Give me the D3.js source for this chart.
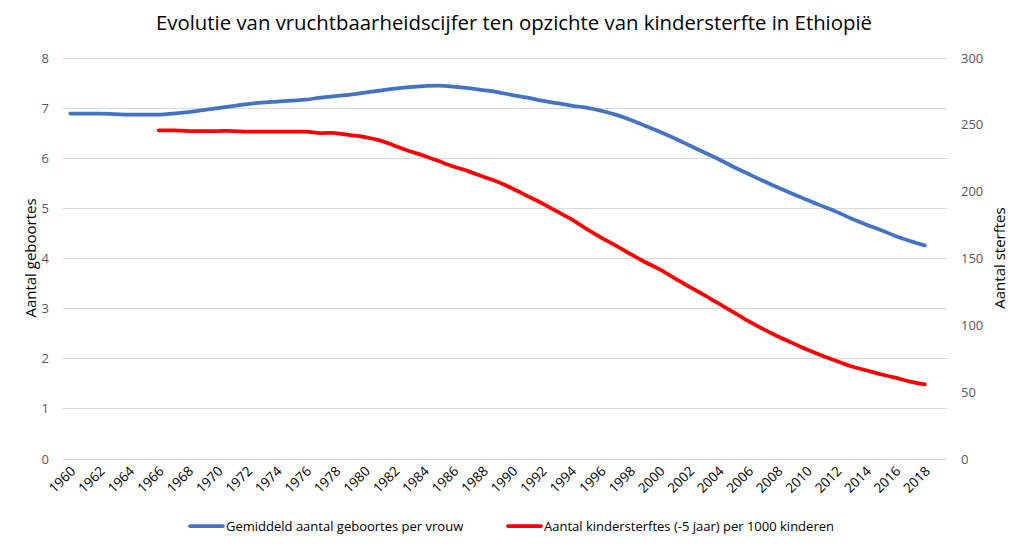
<!DOCTYPE html>
<html>
<head>
<meta charset="utf-8">
<script src="https://cdn.jsdelivr.net/npm/d3@7"></script>
<style>
  body { margin: 0; background: #fff; }
  text { font-family: 'Open Sans', 'Noto Sans', sans-serif; }
</style>
</head>
<body>
<div id="chart"></div>
<script>
// categories: 1960..2019 (2019 left empty like the Excel sheet)
var years = d3.range(1960, 2020)
var tickYears = d3.range(1960, 2020, 2)

var fertYears = d3.range(1960, 2019)
var fertility = [6.88, 6.88, 6.88, 6.87, 6.86, 6.86, 6.86, 6.88, 6.91, 6.95,
	6.99, 7.03, 7.07, 7.10, 7.12, 7.14, 7.16, 7.20, 7.23, 7.26,
	7.30, 7.34, 7.38, 7.41, 7.43, 7.44, 7.42, 7.39, 7.35, 7.31,
	7.25, 7.20, 7.14, 7.09, 7.04, 7.00, 6.94, 6.86, 6.76, 6.64,
	6.52, 6.39, 6.25, 6.11, 5.97, 5.82, 5.68, 5.54, 5.41, 5.28,
	5.16, 5.04, 4.92, 4.79, 4.67, 4.56, 4.44, 4.34, 4.25]

var mortYears = d3.range(1966, 2019)
var mortality = [245.5, 245.5, 245, 245, 245, 245, 244.5, 244.5, 244.5, 244.5,
	244.5, 243.5, 243.5, 242, 240.5, 238, 234, 230, 226.5, 222.5,
	218.5, 215, 211, 207, 202, 196.5, 191, 185, 179, 172,
	165.5, 159.5, 153, 147, 141.5, 135, 128.5, 122.5, 116, 109.5,
	103, 97, 91.5, 86.5, 81.5, 77, 73, 69, 66, 63,
	60.5, 57.5, 55.5]

var leftTicks = [0, 1, 2, 3, 4, 5, 6, 7, 8]
var rightTicks = [0, 50, 100, 150, 200, 250, 300]

var seriesNames = ['Gemiddeld aantal geboortes per vrouw', 'Aantal kindersterftes (-5 jaar) per 1000 kinderen']
var colors = ['#4472C4', '#FF0000']

var width = 1030
var height = 551
var plotLeft = 63, plotRight = 947, plotTop = 57.5, plotBottom = 458.5

var svg = d3.select('#chart')
	.append('svg')
	.attr('width', width)
	.attr('height', height)

var x = d3.scaleBand()
	.domain(years)
	.range([plotLeft, plotRight])
	.padding(0)

var yLeft = d3.scaleLinear().domain([0, 8]).range([plotBottom, plotTop])
var yRight = d3.scaleLinear().domain([0, 300]).range([plotBottom, plotTop])

function cx(yr) { return x(yr) + x.bandwidth() / 2 }

// gridlines
svg.append('g')
	.selectAll('line')
	.data(leftTicks)
	.enter()
	.append('line')
	.attr('x1', plotLeft)
	.attr('x2', plotRight)
	.attr('y1', d => Math.round(yLeft(d)) + 0.5)
	.attr('y2', d => Math.round(yLeft(d)) + 0.5)
	.style('stroke', '#d9d9d9')
	.style('stroke-width', 1)

// left axis labels
svg.append('g')
	.selectAll('text')
	.data(leftTicks)
	.enter()
	.append('text')
	.attr('x', 49)
	.attr('y', d => yLeft(d) + 5)
	.attr('text-anchor', 'end')
	.style('font-size', '13px')
	.style('fill', '#595959')
	.text(d => d)

// right axis labels
svg.append('g')
	.selectAll('text')
	.data(rightTicks)
	.enter()
	.append('text')
	.attr('x', 961)
	.attr('y', d => yRight(d) + 5)
	.attr('text-anchor', 'start')
	.style('font-size', '13px')
	.style('fill', '#595959')
	.text(d => d)

// x labels
svg.append('g')
	.selectAll('text')
	.data(tickYears)
	.enter()
	.append('text')
	.attr('transform', d => 'translate(' + (cx(d) + 6) + ',' + 472 + ') rotate(-45)')
	.attr('text-anchor', 'end')
	.style('font-size', '13.5px')
	.style('fill', '#000')
	.text(d => d)

// axis titles
svg.append('text')
	.attr('transform', 'translate(36,258) rotate(-90)')
	.attr('text-anchor', 'middle')
	.style('font-size', '15px')
	.style('fill', '#000')
	.text('Aantal geboortes')

svg.append('text')
	.attr('transform', 'translate(1005,258) rotate(-90)')
	.attr('text-anchor', 'middle')
	.style('font-size', '15px')
	.style('fill', '#000')
	.text('Aantal sterftes')

// title
svg.append('text')
	.attr('x', 514)
	.attr('y', 30)
	.attr('text-anchor', 'middle')
	.attr('textLength', 716)
	.attr('lengthAdjust', 'spacingAndGlyphs')
	.style('font-size', '20px')
	.style('fill', '#000')
	.text('Evolutie van vruchtbaarheidscijfer ten opzichte van kindersterfte in Ethiopië')

// lines
var fertLine = d3.line()
	.x((d, i) => cx(fertYears[i]))
	.y(d => yLeft(d))
	.curve(d3.curveCatmullRom.alpha(0.5))

var mortLine = d3.line()
	.x((d, i) => cx(mortYears[i]))
	.y(d => yRight(d))
	.curve(d3.curveCatmullRom.alpha(0.5))

svg.append('path')
	.attr('d', fertLine(fertility))
	.style('fill', 'none')
	.style('stroke', colors[0])
	.style('stroke-width', 3.75)
	.style('stroke-linecap', 'round')

svg.append('path')
	.attr('d', mortLine(mortality))
	.style('fill', 'none')
	.style('stroke', colors[1])
	.style('stroke-width', 3.75)
	.style('stroke-linecap', 'round')

// legend
var legendX = [190, 508]
var legend = svg.append('g')
	.selectAll('g')
	.data(seriesNames)
	.enter()
	.append('g')
	.attr('transform', (d, i) => 'translate(' + legendX[i] + ',526)')

legend.append('line')
	.attr('x1', 0)
	.attr('x2', 33)
	.style('stroke', (d, i) => colors[i])
	.style('stroke-width', 3.75)
	.style('stroke-linecap', 'round')

legend.append('text')
	.attr('x', 36)
	.attr('y', 5)
	.style('font-size', '13px')
	.style('fill', '#000')
	.text(d => d)
</script>
</body>
</html>
